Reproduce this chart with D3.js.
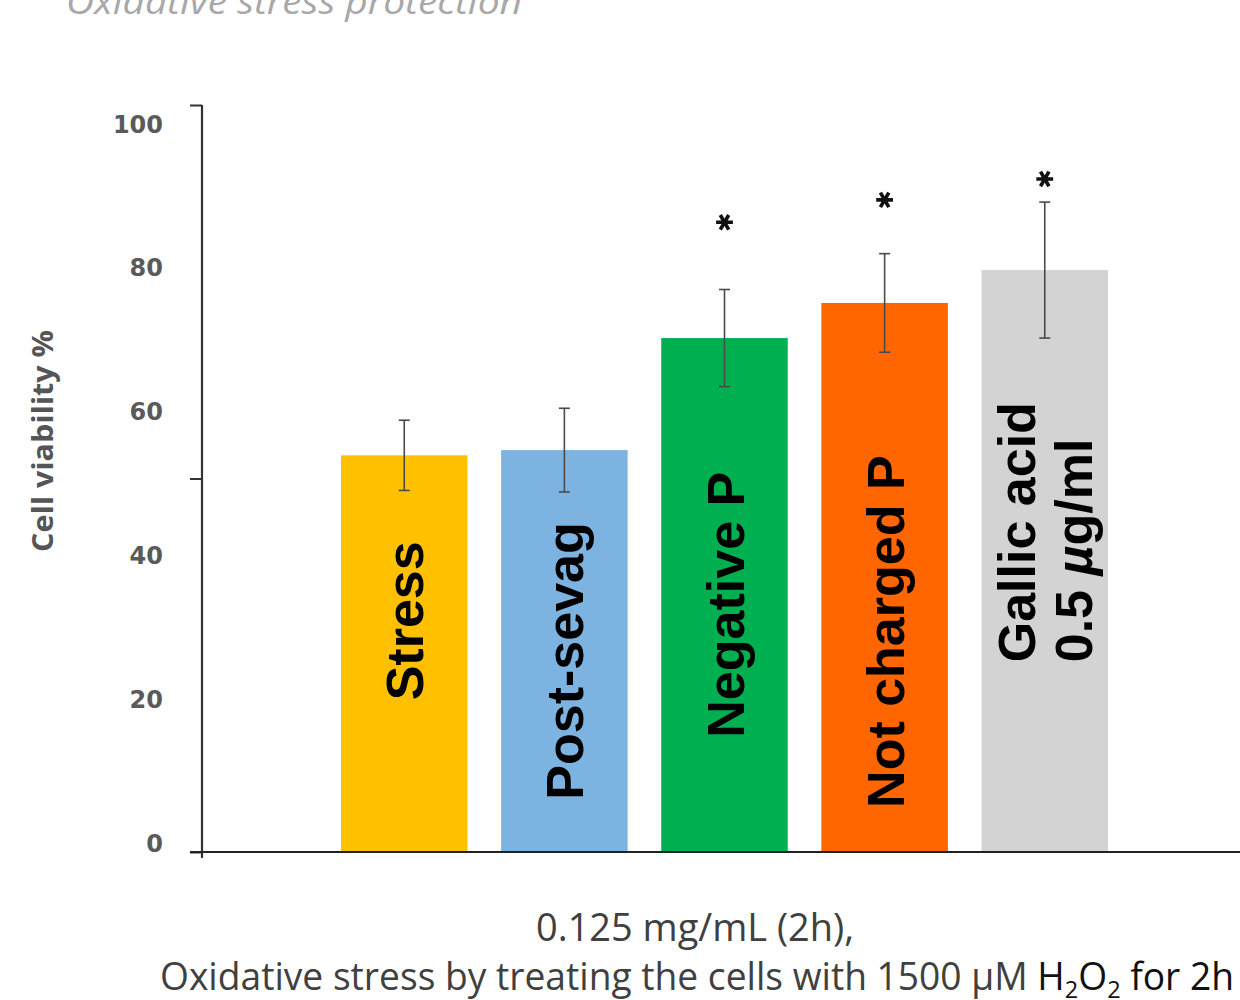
<!DOCTYPE html>
<html>
<head>
<meta charset="utf-8">
<script src="https://cdn.jsdelivr.net/npm/d3@7"></script>
<style>
  html, body { margin: 0; padding: 0; background: #fff; }
  svg { display: block; }
</style>
</head>
<body>
<svg id="chart" width="1240" height="1000"></svg>
<script>
// Treatments and measured viability (%), with standard deviations
const categories = ["Stress", "Post-sevag", "Negative P", "Not charged P", "Gallic acid"];
const viability  = [53.1, 53.8, 68.8, 73.5, 77.9];
const errors     = [4.7, 5.6, 6.5, 6.6, 9.1];
const significant = [false, false, true, true, true];
const barColors  = ["#FFC000", "#7DB3E1", "#00B050", "#FF6600", "#D3D3D3"];
// In-bar label lines (rotated)
const barLabels = [["Stress"], ["Post-sevag"], ["Negative P"], ["Not charged P"], ["Gallic acid", "0.5 µg/ml"]];
// Y-axis tick labels
const yTickLabels = [0, 20, 40, 60, 80, 100];
const yTickMarks  = [0, 50, 100];

// Layout helpers (value units where the label starts / significance mark sits)
const labelStart = [20.3, 7.0, 15.3, 5.9, 25.4];
const starLevel  = [0, 0, 84.3, 87.3, 90.1];

const svg = d3.select("#chart");

const x = d3.scaleBand().domain(categories).range([341, 1108]).paddingInner(0.21).paddingOuter(0);
const y = d3.scaleLinear().domain([0, 100]).range([852, 105]);
// tick-label column is set slightly offset from the tick marks
const yLab = d3.scaleLinear().domain([0, 100]).range([843, 124]);

const data = categories.map((c, i) => ({
  cat: c, v: viability[i], e: errors[i], sig: significant[i],
  color: barColors[i], lines: barLabels[i], ls: labelStart[i], star: starLevel[i]
}));

// Title (partly above the page edge)
svg.append("text")
  .attr("x", 66).attr("y", 14)
  .attr("font-family", "'Open Sans', sans-serif")
  .attr("font-style", "italic")
  .attr("font-size", 34)
  .attr("fill", "#A8A8A8")
  .attr("textLength", 456).attr("lengthAdjust", "spacingAndGlyphs")
  .text("Oxidative stress protection");

// Bars
svg.append("g").selectAll("rect").data(data).join("rect")
  .attr("x", d => x(d.cat))
  .attr("width", x.bandwidth())
  .attr("y", d => y(d.v))
  .attr("height", d => y(0) - y(d.v))
  .attr("fill", d => d.color);

// Error bars
const eb = svg.append("g").attr("stroke", "#4a4a4a").attr("stroke-width", 1.6).attr("fill", "none");
data.forEach(d => {
  const cx = x(d.cat) + x.bandwidth() / 2;
  eb.append("line").attr("x1", cx).attr("x2", cx).attr("y1", y(d.v + d.e)).attr("y2", y(d.v - d.e));
  eb.append("line").attr("x1", cx - 5.5).attr("x2", cx + 5.5).attr("y1", y(d.v + d.e)).attr("y2", y(d.v + d.e));
  eb.append("line").attr("x1", cx - 5.5).attr("x2", cx + 5.5).attr("y1", y(d.v - d.e)).attr("y2", y(d.v - d.e));
});

// Significance asterisks
svg.append("g").selectAll("path").data(data.filter(d => d.sig)).join("path")
  .attr("d", d3.symbol(d3.symbolAsterisk, 200))
  .attr("transform", d => `translate(${x(d.cat) + x.bandwidth() / 2},${y(d.star)}) rotate(90)`)
  .attr("stroke", "#111").attr("stroke-width", 3.6).attr("fill", "none");

// Rotated in-bar labels
data.forEach(d => {
  const cx = x(d.cat) + x.bandwidth() / 2;
  const n = d.lines.length;
  d.lines.forEach((line, j) => {
    const off = 19 + (j - (n - 1) / 2) * 57;
    const t = svg.append("text")
      .attr("transform", `translate(${cx + off},${y(d.ls)}) rotate(-90)`)
      .attr("font-family", "'Liberation Sans', Arial, sans-serif")
      .attr("font-weight", "bold")
      .attr("font-size", 52)
      .attr("fill", "#000");
    if (line.includes("µ")) {
      const parts = line.split("µ");
      t.append("tspan").text(parts[0]);
      t.append("tspan").attr("font-style", "italic").text("µ");
      t.append("tspan").text(parts[1]);
    } else {
      t.text(line);
    }
  });
});

// Y axis: tick marks only, line drawn separately
const yAxis = svg.append("g").attr("transform", "translate(202,0)")
  .call(d3.axisLeft(y).tickValues(yTickMarks).tickSize(12).tickSizeOuter(0).tickFormat(""));
yAxis.select(".domain").remove();
yAxis.selectAll(".tick line").attr("stroke", "#333").attr("stroke-width", 2);
svg.append("line").attr("x1", 202).attr("x2", 202).attr("y1", y(100)).attr("y2", y(0) + 6)
  .attr("stroke", "#333").attr("stroke-width", 2.2);

// X axis baseline
svg.append("line").attr("x1", 190).attr("x2", 1240).attr("y1", y(0)).attr("y2", y(0))
  .attr("stroke", "#222").attr("stroke-width", 2.2);

// Y tick labels
svg.append("g").selectAll("text").data(yTickLabels).join("text")
  .attr("x", 163).attr("y", d => yLab(d))
  .attr("dy", "0.36em")
  .attr("text-anchor", "end")
  .attr("font-family", "'DejaVu Sans', Verdana, sans-serif")
  .attr("font-weight", "bold")
  .attr("font-size", 24)
  .attr("fill", "#5a5a5a")
  .text(d => d);

// Y axis title
svg.append("text")
  .attr("transform", "translate(53,441) rotate(-90)")
  .attr("text-anchor", "middle")
  .attr("font-family", "'Open Sans', sans-serif")
  .attr("font-weight", "bold")
  .attr("font-size", 29)
  .attr("fill", "#555")
  .attr("textLength", 222).attr("lengthAdjust", "spacingAndGlyphs")
  .text("Cell viability %");

// Caption below the axis
const cap = svg.append("g")
  .attr("font-family", "'Open Sans', sans-serif")
  .attr("font-size", 38)
  .attr("fill", "#404040");
cap.append("text").attr("x", 536).attr("y", 941)
  .attr("textLength", 318).attr("lengthAdjust", "spacingAndGlyphs")
  .text("0.125 mg/mL (2h),");
const l2 = cap.append("text").attr("x", 160).attr("y", 990)
  .attr("textLength", 1074).attr("lengthAdjust", "spacingAndGlyphs");
l2.append("tspan").text("Oxidative stress by treating the cells with 1500 µM ");
l2.append("tspan").attr("fill", "#111").text("H");
l2.append("tspan").attr("fill", "#111").attr("font-size", 24).attr("dy", 8).text("2");
l2.append("tspan").attr("fill", "#111").attr("dy", -8).text("O");
l2.append("tspan").attr("fill", "#111").attr("font-size", 24).attr("dy", 8).text("2");
l2.append("tspan").attr("fill", "#111").attr("dy", -8).text(" for 2h");
</script>
</body>
</html>
